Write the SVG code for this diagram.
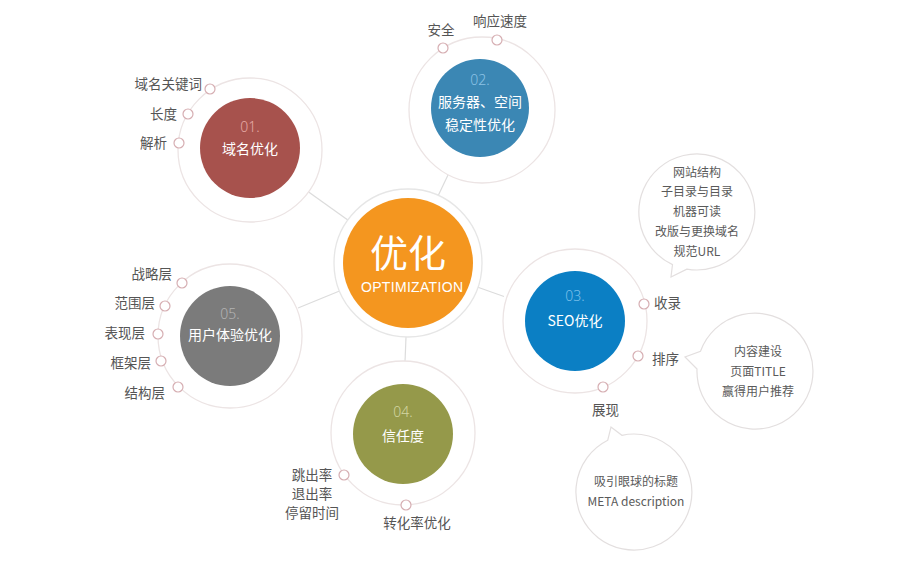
<svg xmlns="http://www.w3.org/2000/svg" width="907" height="562" viewBox="0 0 907 562">
<style>
.ring{fill:#fff;stroke:#ece4e4;stroke-width:1.3}
.dot{fill:#fff;stroke:#d6aeb2;stroke-width:1.2}
.bub{fill:#fff;stroke:#e3dfdf;stroke-width:1.2}
.lbl{font-family:"Noto Sans CJK SC","Noto Sans",sans-serif;font-size:13.5px;fill:#555}
.btx{font-family:"Noto Sans CJK SC","Noto Sans",sans-serif;font-size:12px;fill:#5a5a5a;text-anchor:middle}
.ntx{font-family:"Noto Sans CJK SC","Noto Sans",sans-serif;font-size:14px;fill:#fff;text-anchor:middle}
.num{font-family:"Noto Sans","Noto Sans CJK SC",sans-serif;font-size:14px;font-weight:300;text-anchor:middle}
.conn{stroke:#dcdcdc;stroke-width:1.2;fill:none}
</style>
<rect width="907" height="562" fill="#fff"/>
<g id="connectors">
<line class="conn" x1="347.8" y1="219.9" x2="308.6" y2="191.9"/>
<line class="conn" x1="438" y1="196" x2="448" y2="175"/>
<line class="conn" x1="477.9" y1="287.3" x2="504" y2="296.5"/>
<line class="conn" x1="339.5" y1="291" x2="298" y2="308"/>
<line class="conn" x1="406" y1="337" x2="405" y2="362"/>
</g>
<g id="center">
<circle cx="408" cy="263" r="74" fill="#fff" stroke="#e6e6e6" stroke-width="1.3"/>
<circle cx="408" cy="263" r="65" fill="#f4961f"/>
<text x="408" y="267" font-family="Noto Sans CJK SC,sans-serif" font-size="38" fill="#fff" text-anchor="middle">优化</text>
<text x="412" y="292" font-family="Liberation Sans,Arial,sans-serif" font-size="14" fill="#fff" text-anchor="middle" textLength="102">OPTIMIZATION</text>
</g>
<g id="node01">
<circle class="ring" cx="250" cy="150" r="72"/>
<circle cx="250" cy="148" r="50" fill="#a7524d"/>
<text class="num" x="250" y="132" fill="#e6aaa6">01.</text>
<text class="ntx" x="250" y="154">域名优化</text>
<circle class="dot" cx="210" cy="89" r="5"/>
<circle class="dot" cx="188" cy="114" r="5"/>
<circle class="dot" cx="179" cy="143" r="5"/>
<text class="lbl" x="202" y="89" text-anchor="end">域名关键词</text>
<text class="lbl" x="177" y="119" text-anchor="end">长度</text>
<text class="lbl" x="167" y="148" text-anchor="end">解析</text>
</g>
<g id="node02">
<circle class="ring" cx="482" cy="110" r="73"/>
<circle cx="480" cy="108" r="49" fill="#3b87b4"/>
<text class="num" x="480" y="85" fill="#8cc3e6">02.</text>
<text class="ntx" x="480" y="107">服务器、空间</text>
<text class="ntx" x="480" y="130">稳定性优化</text>
<circle class="dot" cx="443" cy="48" r="5"/>
<circle class="dot" cx="497" cy="40" r="5"/>
<text class="lbl" x="441" y="35" text-anchor="middle">安全</text>
<text class="lbl" x="500" y="26" text-anchor="middle">响应速度</text>
</g>
<g id="node03">
<circle class="ring" cx="575" cy="321" r="72"/>
<circle cx="575" cy="321" r="50" fill="#0b7fc4"/>
<text class="num" x="575" y="301" fill="#7cc0ea">03.</text>
<text class="ntx" x="575" y="326">SEO优化</text>
<circle class="dot" cx="644" cy="304" r="5"/>
<circle class="dot" cx="638" cy="356" r="5"/>
<circle class="dot" cx="603" cy="387" r="5"/>
<text class="lbl" x="654" y="308">收录</text>
<text class="lbl" x="652" y="364">排序</text>
<text class="lbl" x="592" y="415">展现</text>
</g>
<g id="bubble1">
<path class="bub" d="M686.9,269.1 L671,277 L672.5,264.6 A58,58 0 1 1 686.9,269.1 Z"/>
<text class="btx" x="697" y="176.5">网站结构</text>
<text class="btx" x="697" y="195.5">子目录与目录</text>
<text class="btx" x="697" y="215.5">机器可读</text>
<text class="btx" x="697" y="235.5">改版与更换域名</text>
<text class="btx" x="697" y="255.5">规范URL</text>
</g>
<g id="bubble2">
<path class="bub" d="M697,369 L685,357 L700.5,351.2 A58,58 0 1 1 697,369 Z"/>
<text class="btx" x="758" y="356">内容建设</text>
<text class="btx" x="758" y="376">页面TITLE</text>
<text class="btx" x="758" y="396">赢得用户推荐</text>
</g>
<g id="bubble3">
<path class="bub" d="M607.7,440.3 L611,427 L621.9,435.3 A58,58 0 1 1 607.7,440.3 Z"/>
<text class="btx" x="636" y="486">吸引眼球的标题</text>
<text class="btx" x="636" y="506">META description</text>
</g>
<g id="node04">
<circle class="ring" cx="403" cy="433" r="72"/>
<circle cx="403" cy="434" r="50" fill="#95994a"/>
<text class="num" x="403" y="417" fill="#d3d6a2">04.</text>
<text class="ntx" x="403" y="441">信任度</text>
<circle class="dot" cx="344" cy="475" r="5"/>
<circle class="dot" cx="406" cy="505" r="5"/>
<text class="lbl" x="312" y="480" text-anchor="middle" font-size="13">跳出率</text>
<text class="lbl" x="312" y="499" text-anchor="middle" font-size="13">退出率</text>
<text class="lbl" x="312" y="518" text-anchor="middle" font-size="13">停留时间</text>
<text class="lbl" x="417" y="528" text-anchor="middle">转化率优化</text>
</g>
<g id="node05">
<circle class="ring" cx="230" cy="336" r="72"/>
<circle cx="230" cy="336" r="50" fill="#7b7b7b"/>
<text class="num" x="230" y="319" fill="#b3b3b3">05.</text>
<text class="ntx" x="230" y="340">用户体验优化</text>
<circle class="dot" cx="182" cy="283" r="5"/>
<circle class="dot" cx="165" cy="306" r="5"/>
<circle class="dot" cx="158" cy="334" r="5"/>
<circle class="dot" cx="161" cy="361" r="5"/>
<circle class="dot" cx="178" cy="387" r="5"/>
<text class="lbl" x="172" y="279" text-anchor="end">战略层</text>
<text class="lbl" x="155" y="308" text-anchor="end">范围层</text>
<text class="lbl" x="145" y="338" text-anchor="end">表现层</text>
<text class="lbl" x="151" y="368" text-anchor="end">框架层</text>
<text class="lbl" x="165" y="398" text-anchor="end">结构层</text>
</g>
</svg>
